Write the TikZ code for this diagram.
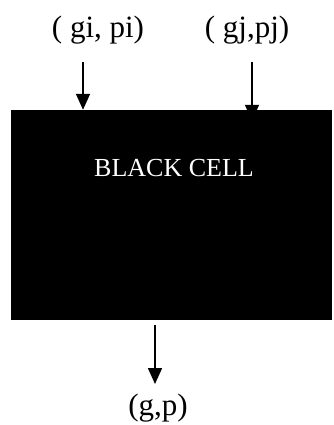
\documentclass[tikz,border=0pt]{standalone}
\usepackage{fontspec}
\setmainfont{Liberation Serif}
\usetikzlibrary{arrows.meta}
\tikzset{
	lbl/.style = {font=\fontsize{31}{33}\selectfont, inner sep=0pt},
	sig/.style = {line width=1.6pt, -{Triangle[length=16pt,width=14pt]}}
}
\begin{document}
\begin{tikzpicture}[x = 1pt, y = -1pt]
\useasboundingbox (0,0) rectangle (333,425);
\node[fill=black, minimum width=321pt, minimum height=210pt, inner sep=0pt] (cell) at (171.5,215) {};
\node[font=\fontsize{26}{28}\selectfont, inner sep=0pt, text=white] (name) at (174,168) {BLACK CELL};
\node[lbl] (inA) at (98,30) {( gi, pi)};
\node[lbl] (inB) at (247,30) {( gj,pj)};
\node[lbl] (out) at (158,408) {(g,p)};
\coordinate (a) at (83,62);
\coordinate (b) at (252,62);
\coordinate (c) at (155,325);
\coordinate (d) at (155,384);
\draw[sig] (a) -- (a |- cell.north);
\draw[sig] (b) -- ([yshift=-11pt]b |- cell.north);
\draw[sig] (c) -- (d);
\end{tikzpicture}
\end{document}
